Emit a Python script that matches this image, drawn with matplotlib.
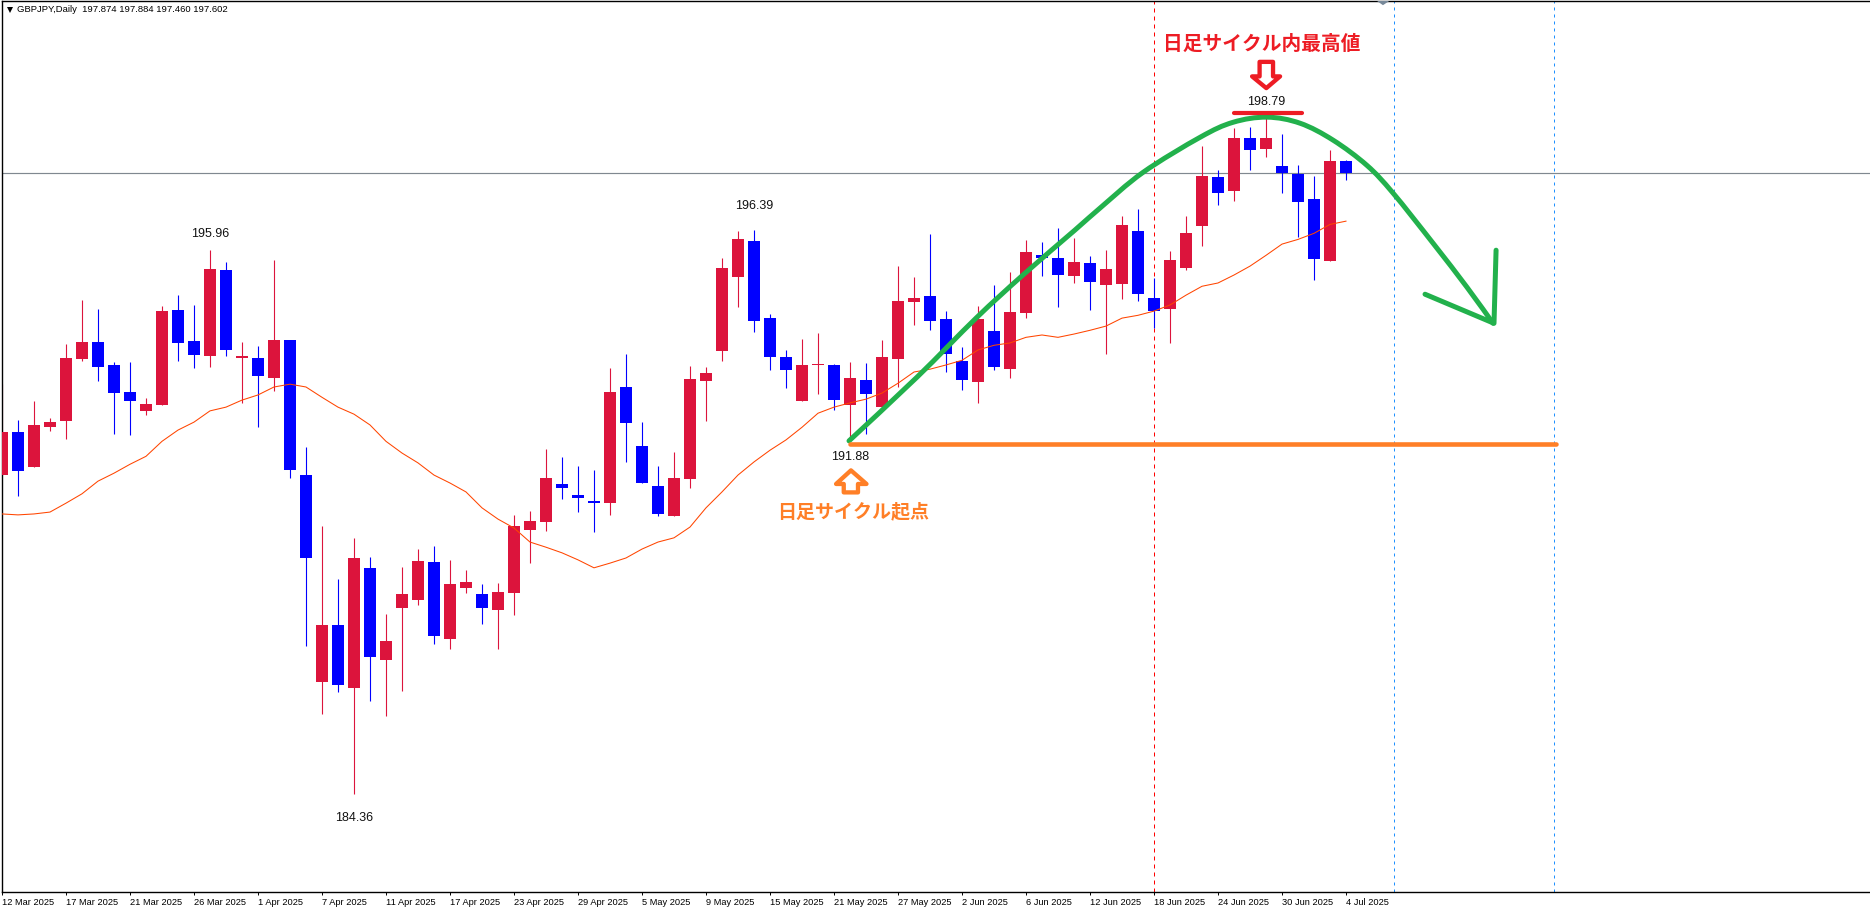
import matplotlib
matplotlib.use("Agg")
import matplotlib.pyplot as plt
from matplotlib.patches import Polygon, PathPatch
from matplotlib.path import Path

opens = [191.16,192.08,191.33,192.18,192.31,193.64,194.00,193.51,192.93,192.52,192.65,194.68,194.02,193.70,195.53,193.66,193.66,193.23,194.04,191.16,
         186.74,187.96,186.61,189.18,187.21,188.32,188.49,189.30,187.66,188.75,188.62,188.28,188.64,189.99,190.16,190.97,190.73,190.60,190.56,193.04,
         191.78,190.92,190.28,191.08,193.17,193.80,195.38,196.15,194.51,193.68,192.74,193.50,193.51,192.65,193.19,192.61,193.64,194.85,194.98,194.49,
         193.59,193.14,194.23,193.42,194.62,195.85,195.79,195.41,195.68,195.21,195.24,196.37,194.94,194.70,195.58,196.47,197.52,197.22,198.35,198.12,
         197.75,197.58,197.05,195.73,197.874]
highs = [193.10,192.33,192.74,192.38,193.96,194.89,194.70,193.57,193.57,192.80,194.77,195.00,194.79,195.96,195.70,194.00,193.91,195.75,194.04,191.76,
         190.07,188.94,189.82,189.41,188.19,189.20,189.58,189.64,189.35,189.13,188.83,188.86,190.30,190.39,191.71,191.55,191.35,191.27,193.44,193.74,
         192.29,191.35,191.65,193.49,193.47,195.79,196.37,196.39,194.59,193.83,194.06,194.19,193.53,193.57,193.55,194.04,195.62,195.38,196.30,194.66,
         193.89,194.77,195.21,195.49,196.17,196.13,196.43,196.22,195.83,195.96,196.69,196.83,195.36,195.94,196.69,198.18,197.67,198.56,198.58,198.79,
         198.43,197.77,197.54,198.09,197.884]
lows = [191.16,190.71,191.33,192.10,191.93,193.59,193.16,192.03,192.01,192.44,192.65,193.59,193.44,193.47,193.70,192.70,192.18,192.95,191.10,187.51,
        186.06,186.53,184.36,186.34,186.02,186.55,188.39,187.55,187.45,188.64,187.98,187.45,188.17,189.28,189.96,190.65,190.37,189.94,190.31,191.44,
        190.99,190.28,190.28,190.88,192.31,193.59,194.74,194.21,193.40,193.02,192.74,192.89,192.55,191.88,192.03,192.61,193.04,194.36,194.25,193.36,
        192.97,192.70,193.40,193.23,194.51,195.41,194.74,195.26,194.68,193.74,194.91,194.87,194.30,193.98,195.53,196.05,196.92,197.01,197.67,197.94,
        197.18,196.24,195.32,195.73,197.460]
closes = [192.08,191.24,192.23,192.29,193.66,194.00,193.47,192.91,192.74,192.67,194.66,193.98,193.72,195.55,193.83,193.68,193.27,194.04,191.27,189.39,
          187.96,186.68,189.39,187.28,187.62,188.62,189.33,187.72,188.83,188.88,188.32,188.66,190.07,190.18,191.10,190.88,190.67,190.56,192.93,192.27,
          190.99,190.33,191.10,193.21,193.34,195.58,196.19,194.45,193.68,193.40,193.51,193.52,192.76,193.23,192.89,193.68,194.87,194.94,194.45,193.74,
          193.19,194.49,193.47,194.64,195.92,195.79,195.43,195.70,195.28,195.55,196.49,195.02,194.66,195.75,196.32,197.54,197.18,198.35,198.09,198.35,
          197.60,196.98,195.77,197.86,197.602]
ma_values = [190.33,190.31,190.33,190.37,190.56,190.76,191.03,191.20,191.39,191.56,191.88,192.12,192.29,192.53,192.61,192.76,192.87,193.04,193.10,193.04,
             192.82,192.61,192.46,192.23,191.88,191.63,191.42,191.16,190.99,190.80,190.46,190.22,190.03,189.73,189.62,189.50,189.35,189.18,189.28,189.39,
             189.58,189.73,189.82,190.05,190.46,190.80,191.16,191.44,191.69,191.91,192.18,192.48,192.61,192.70,192.78,192.91,193.12,193.36,193.42,193.51,
             193.61,193.83,193.93,193.98,194.10,194.15,194.10,194.17,194.25,194.34,194.51,194.57,194.66,194.79,195.00,195.19,195.26,195.43,195.62,195.85,
             196.09,196.19,196.32,196.51,196.58]
tick_labels = ["12 Mar 2025","17 Mar 2025","21 Mar 2025","26 Mar 2025","1 Apr 2025","7 Apr 2025","11 Apr 2025","17 Apr 2025","23 Apr 2025",
               "29 Apr 2025","5 May 2025","9 May 2025","15 May 2025","21 May 2025","27 May 2025","2 Jun 2025","6 Jun 2025","12 Jun 2025",
               "18 Jun 2025","24 Jun 2025","30 Jun 2025","4 Jul 2025"]
peak_labels = [(13, 195.96, 16), (47, 196.39, 24), (79, 198.79, 16), (22, 184.36, -24), (53, 191.88, -16)]
curve_bars = [52.94,57.19,60.88,63.81,67.06,68.63,71.31,74.88,76.94,79.06,81.13,83.19,85.31,86.94,89.44,91.56,93.19]
curve_prices = [191.89,193.25,194.51,195.43,196.39,196.86,197.62,198.37,198.69,198.80,198.67,198.31,197.77,197.18,196.11,195.17,194.40]
head_bars = [93.38,93.25,88.94]
head_prices = [195.96,194.40,195.02]
red_arrow = [(78.6,199.98),(79.44,199.98),(79.44,199.67),(79.88,199.67),(79.02,199.42),(78.13,199.67),(78.6,199.67)]
orange_arrow = [(53.06,191.26),(54.03,190.97),(53.5,190.97),(53.5,190.79),(52.61,190.79),(52.61,190.97),(52.13,190.97)]

W, H = 1870, 909
RED, BLUE = "#DC143C", "#0000FF"
GREEN, ORANGE, ANN_RED = "#22B14C", "#FF7F27", "#ED1C24"
NUM_FONT = "Liberation Sans"
CJK = ["Noto Sans CJK JP", "DejaVu Sans"]

fig = plt.figure(figsize=(W / 100, H / 100), dpi=100, facecolor="white")
ax = fig.add_axes([1.5 / W, (H - 892) / H, (W - 1.5) / W, (892 - 0.5) / H])
ax.set_xlim(-0.03, 116.75)
ax.set_ylim(182.26, 201.29)
ax.spines["right"].set_visible(False)
for side in ("left", "top", "bottom"):
    ax.spines[side].set_linewidth(1.0)
ax.set_yticks([])
ax.set_xticks(range(0, 4 * len(tick_labels), 4))
ax.set_xticklabels(tick_labels, ha="left", fontsize=6.7, family=NUM_FONT)
ax.tick_params(axis="x", length=2.5, width=0.7, pad=1.8)

px = 0.72
ax.axhline(closes[-1], color="#808890", lw=0.85, zorder=1)
ax.axvline(72, color="#FF0000", lw=px, ls=(0, (4, 4)), zorder=1)
for v in (87, 97):
    ax.axvline(v, color="#1E90FF", lw=px, ls=(0, (3, 4)), zorder=1)

for i, (o, h, l, c) in enumerate(zip(opens, highs, lows, closes)):
    col = RED if c >= o else BLUE
    ax.vlines(i, l, h, color=col, lw=0.8, zorder=2)
    top, bot = max(o, c), min(o, c)
    ax.bar(i, max(top - bot, 0.035), bottom=bot, width=0.69, color=col, lw=0, zorder=3)

ax.plot(range(len(ma_values)), ma_values, color="#FF4500", lw=0.75, zorder=4)

for i, p, dy in peak_labels:
    ax.annotate(f"{p:.2f}", (i, p), xytext=(0, dy * px), textcoords="offset points",
                ha="center", va="center", fontsize=9, family=NUM_FONT, color="#111111", zorder=6)

pts = list(zip(curve_bars, curve_prices))
verts, codes = [pts[0]], [Path.MOVETO]
for k in range(len(pts) - 1):
    p0 = pts[max(k - 1, 0)]
    p1 = pts[k]
    p2 = pts[k + 1]
    p3 = pts[min(k + 2, len(pts) - 1)]
    verts += [(p1[0] + (p2[0] - p0[0]) / 6, p1[1] + (p2[1] - p0[1]) / 6),
              (p2[0] - (p3[0] - p1[0]) / 6, p2[1] - (p3[1] - p1[1]) / 6), p2]
    codes += [Path.CURVE4] * 3
ax.add_patch(PathPatch(Path(verts, codes), fill=False, ec=GREEN, lw=3.6, capstyle="round", joinstyle="round", zorder=5))
ax.plot(head_bars, head_prices, color=GREEN, lw=3.6, zorder=5, solid_joinstyle="round", solid_capstyle="round")
ax.plot([53, 97.13], [191.83, 191.83], color=ORANGE, lw=3.3, zorder=5, solid_capstyle="round")
ax.plot([77, 81.25], [198.88, 198.88], color=ANN_RED, lw=3.0, zorder=5, solid_capstyle="round")
ax.add_patch(Polygon(red_arrow, closed=True, fill=False, ec=ANN_RED, lw=3.1, joinstyle="round", zorder=5))
ax.add_patch(Polygon(orange_arrow, closed=True, fill=False, ec=ORANGE, lw=3.1, joinstyle="round", zorder=5))

ax.text(78.75, 200.35, "日足サイクル内最高値", family=CJK, fontsize=14.2, color=ANN_RED, weight="bold",
        ha="center", va="center", zorder=6)
ax.text(53.2, 190.37, "日足サイクル起点", family=CJK, fontsize=13.7, color=ORANGE, weight="bold",
        ha="center", va="center", zorder=6)

ax.add_patch(Polygon([(85.9, 201.29), (86.75, 201.29), (86.31, 201.19)], closed=True, fc="#778899", ec="none", zorder=6))

fig.text(17 / W, 1 - 9.5 / H, "GBPJPY,Daily  197.874 197.884 197.460 197.602", family=NUM_FONT,
         fontsize=6.8, color="black", ha="left", va="center")
ax.plot([8.7 / W], [1 - 9.5 / 892], transform=ax.transAxes, marker="v", ms=4.5, color="black", mew=0, ls="none", clip_on=False)

fig.savefig("out.png", dpi=100)
